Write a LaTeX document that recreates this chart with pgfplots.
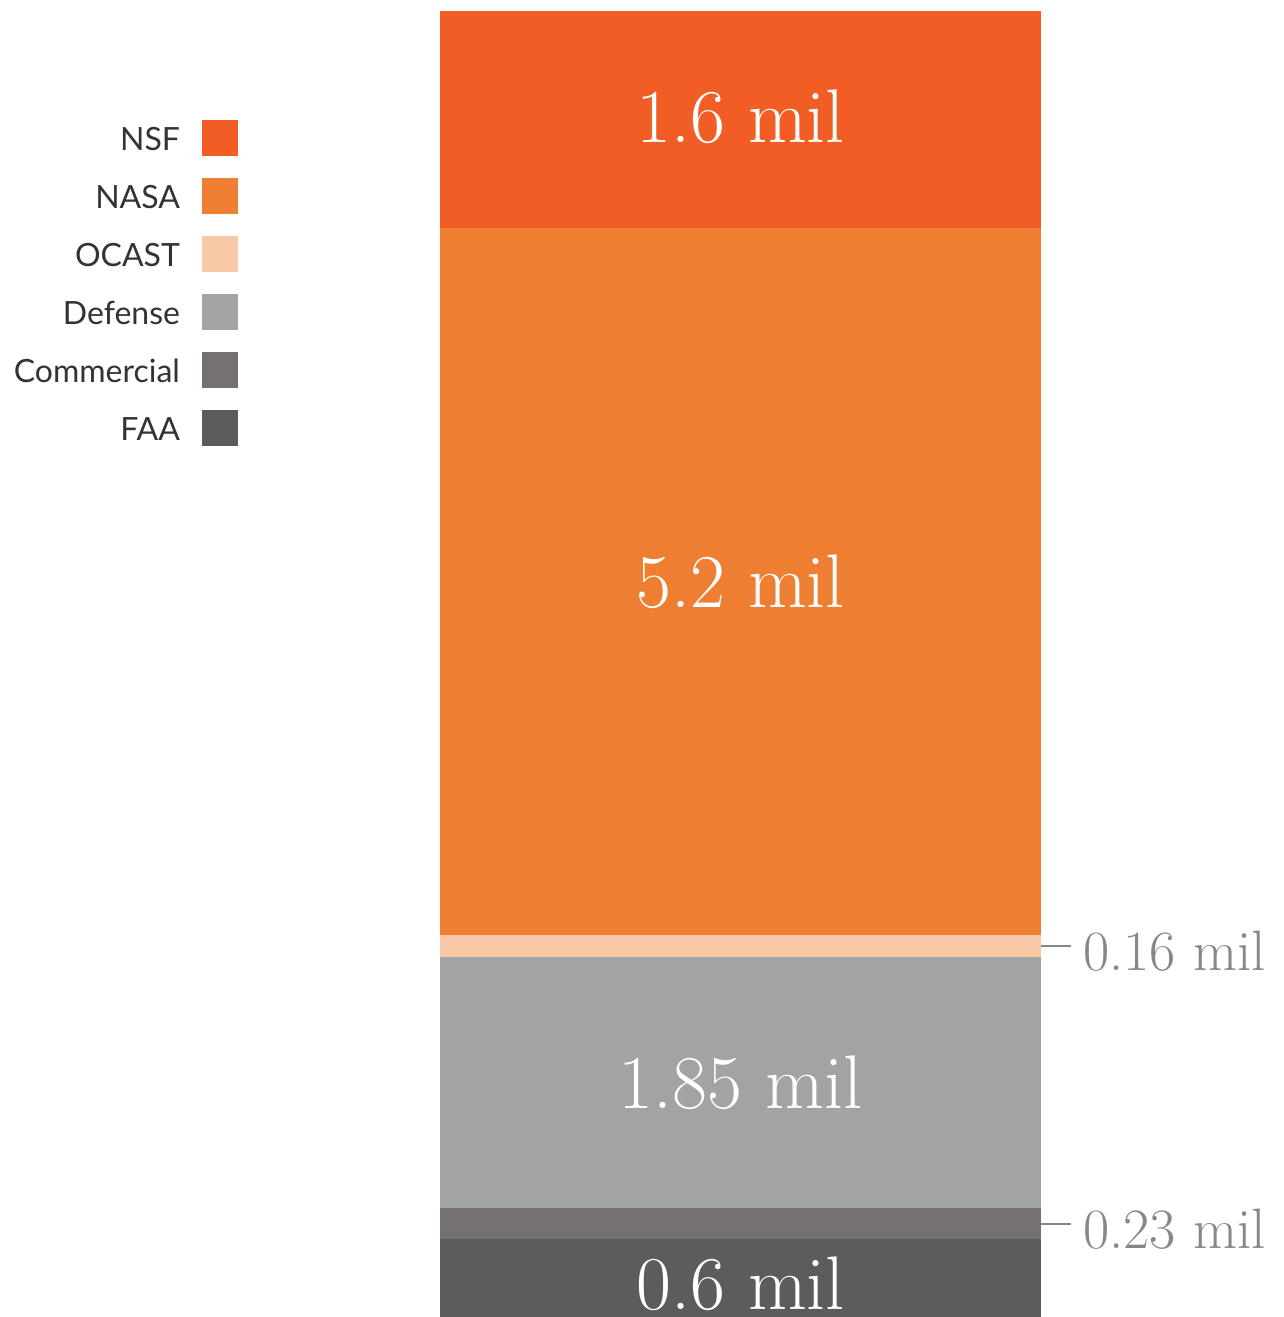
\documentclass[border=0pt]{standalone}
\usepackage{fontspec}
\usepackage{pgfplots}
\pgfplotsset{compat=1.18}
\usetikzlibrary{calc}
\newfontfamily\legfont{Lato}

\definecolor{cNSF}{HTML}{F15D24}
\definecolor{cNASA}{HTML}{ED7E32}
\definecolor{cOCAST}{HTML}{F8C9A7}
\definecolor{cDEF}{HTML}{A2A3A4}
\definecolor{cCOM}{HTML}{767170}
\definecolor{cFAA}{HTML}{5B5C5B}
\definecolor{side}{HTML}{878787}

\pgfplotsset{
  leg/.style={legend image code/.code={\fill[#1] (0pt,-8.2pt) rectangle (18pt,9.8pt);}},
}
\tikzset{
  inlabel/.style={text=white, font=\fontsize{38}{44}\selectfont},
  outlabel/.style={anchor=west, xshift=21pt, yshift=-2.5pt, inner sep=0pt,
    text=side, font=\fontsize{28.5}{32}\selectfont},
}

\begin{document}
\begin{tikzpicture}
\begin{axis}[
  name=ax,
  scale only axis,
  width=300.5pt, height=655pt,
  xmin=-0.5, xmax=0.5,
  ymin=0, ymax=9.64,
  hide axis, clip=false,
  ybar stacked, bar width=300.5pt,
  reverse legend,
  legend plot pos=right,
  legend cell align=right,
  legend style={draw=none, fill=none, inner sep=0pt, outer sep=0pt,
    at={(axis description cs:-0.3361,0.9168)}, anchor=north east,
    row sep=10.2pt, column sep=11pt,
    nodes={inner sep=0pt, text height=14.4pt, text depth=3.6pt,
      font=\legfont\fontsize{16}{18}\selectfont, text=black!80}},
]
\addplot[fill=cFAA, draw=none, leg] coordinates {(0,0.6)};
\addlegendentry{FAA}
\addplot[fill=cCOM, draw=none, leg] coordinates {(0,0.23)};
\addlegendentry{Commercial}
\addplot[fill=cDEF, draw=none, leg] coordinates {(0,1.85)};
\addlegendentry{Defense}
\addplot[fill=cOCAST, draw=none, leg] coordinates {(0,0.16)};
\addlegendentry{OCAST}
\addplot[fill=cNASA, draw=none, leg] coordinates {(0,5.2)};
\addlegendentry{NASA}
\addplot[fill=cNSF, draw=none, leg] coordinates {(0,1.6)};
\addlegendentry{NSF}

% segment midpoints (stacked totals) and the right edge for callouts
\coordinate (mNSF) at (axis cs:0,8.84);
\coordinate (mNASA) at (axis cs:0,5.44);
\coordinate (mDEF) at (axis cs:0,1.755);
\coordinate (bFAA) at (axis cs:0,0);
\coordinate (rOCAST) at (axis cs:0.5,2.76);
\coordinate (rCOM) at (axis cs:0.5,0.715);
\end{axis}

% values written inside the segments
\node[inlabel, yshift=1.5pt] at (mNSF) {1.6 mil};
\node[inlabel] at (mNASA) {5.2 mil};
\node[inlabel] at (mDEF) {1.85 mil};
\node[inlabel, anchor=base, yshift=5.5pt] at (bFAA) {0.6 mil};

% callouts for the two thin segments
\draw[side, line width=1pt] (rOCAST) -- ++(15pt,0);
\node[outlabel] at (rOCAST) {0.16 mil};
\draw[side, line width=1pt] (rCOM) -- ++(15pt,0);
\node[outlabel] at (rCOM) {0.23 mil};

\pgfresetboundingbox
\useasboundingbox ($(ax.south west)+(-220pt,2pt)$) rectangle ++(642pt,658.5pt);
\end{tikzpicture}
\end{document}
